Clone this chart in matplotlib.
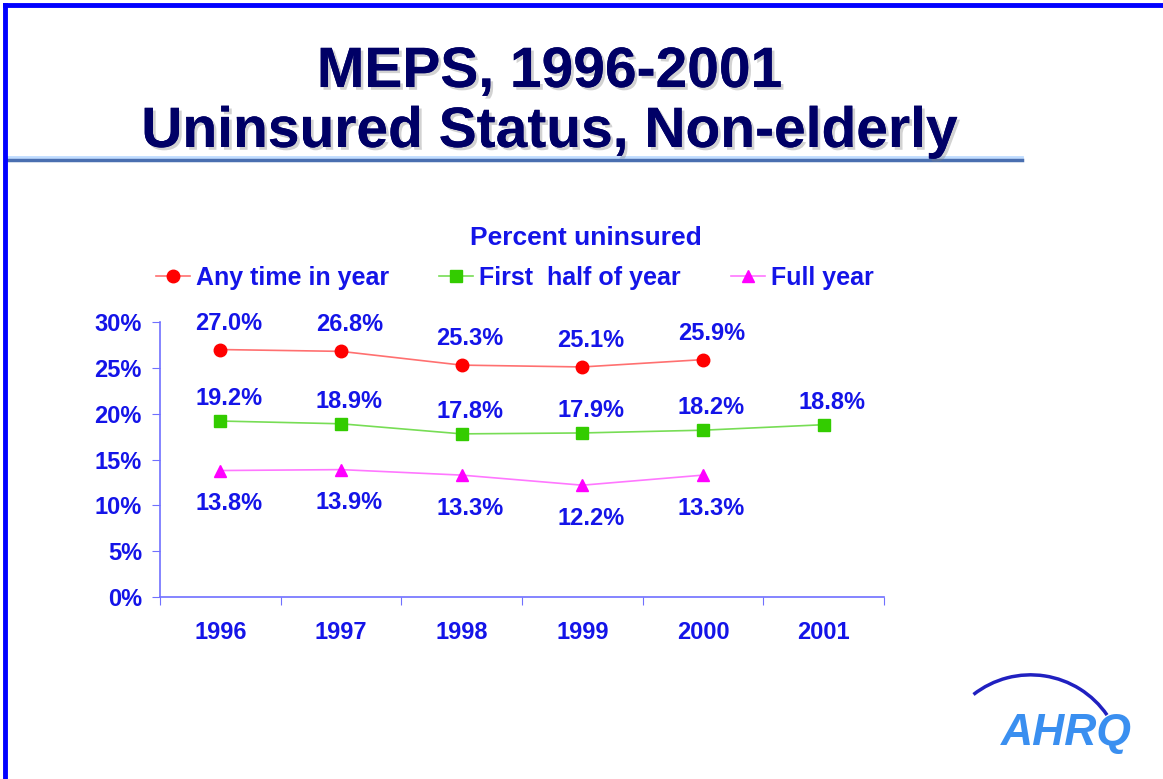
import numpy as np
import matplotlib
matplotlib.use("Agg")
import matplotlib.pyplot as plt
import matplotlib.patheffects as pe
import matplotlib.transforms as mtransforms
from matplotlib.lines import Line2D
from matplotlib.patches import Arc

# Datos
years = ["1996", "1997", "1998", "1999", "2000", "2001"]
any_time = [27.0, 26.8, 25.3, 25.1, 25.9, None]
first_half = [19.2, 18.9, 17.8, 17.9, 18.2, 18.8]
full_year = [13.8, 13.9, 13.3, 12.2, 13.3, None]
yticks = [0, 5, 10, 15, 20, 25, 30]

plt.rcParams['font.family'] = ['Liberation Sans', 'DejaVu Sans']
txt_blue = '#1414e8'
axis_blue = '#7070ff'

fig = plt.figure(figsize=(11.63, 7.79), dpi=100)
ax = fig.add_axes([0.1376, 0.2336, 0.6225, 0.353])

x = np.arange(len(years)) + 0.5


def clean(vals):
    return np.array([np.nan if v is None else v for v in vals], dtype=float)


# nombre, valores, marcador, color marcador, color linea, desplazamiento etiqueta
series = [
    ("Any time in year", clean(any_time), 'o', '#ff0000', '#ff7070', 19),
    ("First  half of year", clean(first_half), 's', '#33cc00', '#77dd55', 16),
    ("Full year", clean(full_year), '^', '#ff00ff', '#ff77ff', -24),
]

for name, y, mk, mcol, lcol, dy in series:
    ax.plot(x, y, color=lcol, lw=1.2, marker=mk, markersize=9,
            markerfacecolor=mcol, markeredgecolor=mcol, label=name)
    for xi, yi in zip(x, y):
        if np.isnan(yi):
            continue
        ax.annotate(f"{yi:.1f}%", (xi, yi), xytext=(6, dy),
                    textcoords='offset points', ha='center', va='center',
                    fontsize=17, fontweight='bold', color=txt_blue)

ax.set_xlim(0, 6)
ax.set_ylim(0, 30)
ax.set_yticks(yticks)
ax.set_yticklabels([f"{v}%" for v in yticks])
ax.set_xticks(np.arange(0, 7))
ax.set_xticklabels([])
ax.set_xticks(x, minor=True)
ax.set_xticklabels(years, minor=True)
ax.tick_params(axis='x', which='major', length=6, color=axis_blue, direction='out')
ax.tick_params(axis='x', which='minor', length=0, pad=17, labelsize=17,
               labelcolor=txt_blue)
ax.tick_params(axis='y', length=6, color=axis_blue, pad=7, labelsize=17,
               labelcolor=txt_blue)
for lab in ax.get_xticklabels(minor=True) + ax.get_yticklabels():
    lab.set_fontweight('bold')
for s in ['top', 'right']:
    ax.spines[s].set_visible(False)
for s in ['left', 'bottom']:
    ax.spines[s].set_color(axis_blue)
    ax.spines[s].set_linewidth(1.2)

leg = ax.legend(loc='center', bbox_to_anchor=(0.49, 1.16), ncol=3, frameon=False,
                handlelength=1.35, handletextpad=0.25, columnspacing=2.0,
                prop={'weight': 'bold', 'size': 18})
for t in leg.get_texts():
    t.set_color(txt_blue)

fig.text(0.504, 0.694, "Percent uninsured", ha='center', va='center',
         fontsize=19, fontweight='bold', color=txt_blue)

# Titulo
shadow = [pe.withSimplePatchShadow(offset=(2, -2), shadow_rgbFace='gray', alpha=0.35),
          pe.Normal()]
fig.text(0.473, 0.8883, "MEPS, 1996-2001", ha='center', va='baseline', fontsize=41,
         fontweight='bold', color='#000066', path_effects=shadow)
fig.text(0.473, 0.8113, "Uninsured Status, Non-elderly", ha='center', va='baseline',
         fontsize=41, fontweight='bold', color='#000066', path_effects=shadow)

# Linea bajo el titulo
fig.add_artist(Line2D([0.006, 0.879], [0.7985, 0.7985], color='#bfdcff', lw=2))
fig.add_artist(Line2D([0.006, 0.879], [0.7945, 0.7945], color='#4a6fb0', lw=2.5))

# Borde azul
fig.add_artist(Line2D([0.0043, 1.0], [0.9935, 0.9935], color='#0000ff', lw=3.5))
fig.add_artist(Line2D([0.0043, 0.0043], [0.0, 0.9935], color='#0000ff', lw=3.5))

# Logo AHRQ
fig.add_artist(Arc((1030.6, 11.4), 185.5, 185.5, theta1=34.5, theta2=128,
                   transform=mtransforms.IdentityTransform(), color='#2020c0', lw=2.5))
fig.text(1066 / 1163, 1 - 745 / 779, "AHRQ", ha='center', va='baseline', fontsize=32,
         fontweight='bold', style='italic', color='#3a8ff0')

fig.savefig("out.png", dpi=100)
